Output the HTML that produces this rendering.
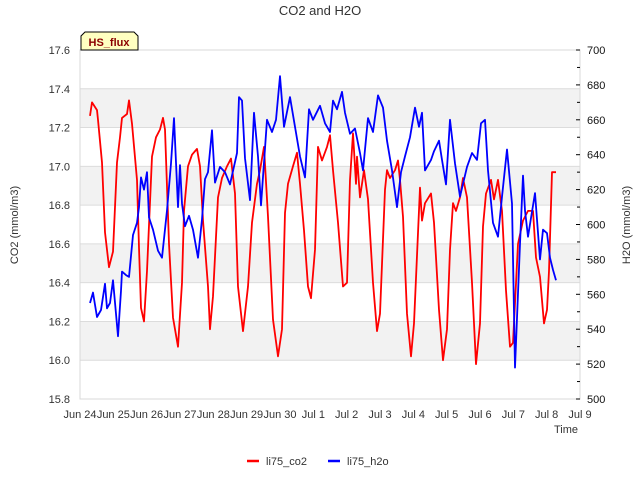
<!DOCTYPE html>
<html><head><meta charset="utf-8"><style>
body{margin:0;background:#fff;}
svg{display:block;font-family:"Liberation Sans","DejaVu Sans",sans-serif;}
</style></head><body>
<svg id="chart" width="640" height="480">
<text x="320" y="15" text-anchor="middle" font-size="13" fill="#333">CO2 and H2O</text>
<g id="bands"></g><g id="grid"></g>
<rect x="80" y="50" width="500" height="349" fill="none" stroke="#d8d8d8"/>
<g id="axes"></g><g id="series"></g>
<g>
<path d="M81,50 L81,36 L85,32 L134,32 L138,36 L138,50 Z" fill="#ffffc0" stroke="#000"/>
<text x="109" y="46" text-anchor="middle" font-size="11" font-weight="bold" fill="#8b0000">HS_flux</text>
</g>
<text transform="translate(18,225) rotate(-90)" text-anchor="middle" font-size="11" fill="#333">CO2 (mmol/m3)</text>
<text transform="translate(630,225) rotate(-90)" text-anchor="middle" font-size="11" fill="#333">H2O (mmol/m3)</text>
<text x="578" y="433" text-anchor="end" font-size="11" fill="#333">Time</text>
<g>
<line x1="247" y1="461" x2="259" y2="461" stroke="#f00" stroke-width="2.5"/>
<text x="266" y="465" font-size="11" fill="#333">li75_co2</text>
<line x1="328" y1="461" x2="340" y2="461" stroke="#00f" stroke-width="2.5"/>
<text x="347" y="465" font-size="11" fill="#333">li75_h2o</text>
</g>
</svg>
<script>
const xTickLabels=["Jun 24","Jun 25","Jun 26","Jun 27","Jun 28","Jun 29","Jun 30","Jul 1","Jul 2","Jul 3","Jul 4","Jul 5","Jul 6","Jul 7","Jul 8","Jul 9"];
const leftTicks=[15.8,16.0,16.2,16.4,16.6,16.8,17.0,17.2,17.4,17.6];
const rightTicks=[500,520,540,560,580,600,620,640,660,680,700];
const co2Days=[.30,.36,.51,.54,.66,.75,.87,.99,1.11,1.20,1.26,1.41,1.47,1.56,1.71,1.77,1.83,1.92,2.01,2.16,2.28,2.40,2.49,2.55,2.67,2.79,2.94,3.06,3.12,3.24,3.36,3.51,3.60,3.69,3.84,3.90,3.99,4.14,4.26,4.41,4.53,4.65,4.74,4.89,5.04,5.16,5.31,5.40,5.52,5.64,5.79,5.94,6.06,6.15,6.24,6.39,6.51,6.60,6.72,6.84,6.93,7.05,7.14,7.26,7.41,7.50,7.59,7.74,7.89,8.01,8.10,8.19,8.28,8.31,8.40,8.52,8.64,8.79,8.91,9.00,9.15,9.21,9.30,9.45,9.54,9.60,9.69,9.81,9.93,10.02,10.20,10.26,10.35,10.53,10.62,10.77,10.89,11.01,11.10,11.19,11.28,11.40,11.49,11.61,11.76,11.88,12.00,12.09,12.18,12.33,12.42,12.54,12.66,12.78,12.90,12.99,13.14,13.29,13.44,13.59,13.68,13.80,13.92,14.01,14.07,14.16,14.28];
const co2Values=[17.26,17.33,17.29,17.24,17.02,16.66,16.48,16.56,17.02,17.15,17.25,17.27,17.34,17.22,16.93,16.58,16.27,16.20,16.46,17.05,17.15,17.19,17.25,17.19,16.60,16.22,16.07,16.40,16.77,17.00,17.06,17.09,17.00,16.72,16.38,16.16,16.33,16.84,16.94,17.00,17.04,16.86,16.38,16.15,16.38,16.71,16.91,16.98,17.10,16.74,16.21,16.02,16.16,16.76,16.91,17.00,17.07,16.91,16.67,16.38,16.32,16.57,17.10,17.03,17.10,17.16,16.98,16.71,16.38,16.40,16.93,17.17,16.91,17.05,16.84,16.98,16.83,16.40,16.15,16.24,16.88,16.98,16.94,16.98,17.03,16.93,16.74,16.24,16.02,16.19,16.89,16.72,16.81,16.86,16.71,16.26,16.00,16.16,16.57,16.81,16.77,16.84,16.94,16.84,16.40,15.98,16.19,16.69,16.86,16.93,16.83,16.93,16.77,16.36,16.07,16.09,16.60,16.72,16.77,16.77,16.53,16.43,16.19,16.26,16.46,16.97,16.97];
const h2oDays=[.30,.39,.51,.63,.75,.81,.90,.99,1.14,1.23,1.26,1.38,1.47,1.59,1.71,1.77,1.83,1.92,2.01,2.07,2.19,2.34,2.46,2.61,2.73,2.82,2.94,3.00,3.06,3.15,3.27,3.39,3.54,3.66,3.75,3.84,3.96,4.05,4.20,4.35,4.50,4.71,4.77,4.86,4.95,5.10,5.22,5.34,5.43,5.61,5.76,5.88,6.00,6.12,6.30,6.45,6.60,6.75,6.87,6.99,7.20,7.35,7.50,7.59,7.71,7.86,7.95,8.10,8.25,8.40,8.49,8.64,8.79,8.94,9.09,9.21,9.36,9.51,9.63,9.75,9.90,10.05,10.17,10.26,10.35,10.53,10.62,10.77,10.86,10.98,11.10,11.25,11.40,11.61,11.76,11.91,12.03,12.15,12.24,12.39,12.54,12.66,12.81,12.96,13.05,13.20,13.29,13.35,13.44,13.65,13.80,13.89,14.01,14.10,14.19,14.28];
const h2oValues=[555,561,547,551,566,552,555,568,536,562,573,571,570,594,601,610,627,620,630,604,597,585,581,608,635,661,610,634,612,599,605,597,581,603,626,630,654,624,633,630,623,641,673,671,638,614,664,639,611,660,653,660,685,656,673,656,639,627,666,660,668,658,653,671,666,676,664,652,655,641,631,661,653,674,667,648,631,610,630,639,650,667,656,664,631,637,642,648,637,623,660,635,616,633,641,637,658,660,631,601,593,616,643,612,518,589,628,608,593,618,580,597,595,581,574,568];

const NS="http://www.w3.org/2000/svg";
const X0=80,X1=580,Y0=50,Y1=399,DAYS=15;
function xScale(d){return X0+d*(X1-X0)/DAYS;}
function yLeft(v){return Y1-(v-15.8)*(Y1-Y0)/1.8;}
function yRight(v){return Y1-(v-500)*(Y1-Y0)/200;}
function mk(tag,attrs,parent){const e=document.createElementNS(NS,tag);for(const k in attrs)e.setAttribute(k,attrs[k]);parent.appendChild(e);return e;}
const bands=document.getElementById('bands'),grid=document.getElementById('grid'),axes=document.getElementById('axes'),series=document.getElementById('series');
for(let i=0;i<leftTicks.length-1;i++){
  if(i%2===1){
    const r=mk('rect',{x:X0,y:yLeft(leftTicks[i+1]),width:X1-X0,height:yLeft(leftTicks[i])-yLeft(leftTicks[i+1]),fill:'#f2f2f2'},bands);
    
    
  }
}
leftTicks.forEach(v=>{
  const l=mk('line',{x1:X0,x2:X1,y1:yLeft(v),y2:yLeft(v),stroke:'#dcdcdc'},grid);
  
  
  const t=mk('text',{x:70,y:yLeft(v)+4,'text-anchor':'end','font-size':11,fill:'#333'},axes);
  t.textContent=v.toFixed(1);
  
  
});
rightTicks.forEach(v=>{
  const t=mk('text',{x:587,y:yRight(v)+4,'font-size':11,fill:'#111'},axes);
  t.textContent=v;
  
  
  const k=mk('line',{x1:576,x2:580,y1:yRight(v),y2:yRight(v),stroke:'#000'},axes);
  
  
  if(v<700){const m=mk('line',{x1:577,x2:580,y1:yRight(v+10),y2:yRight(v+10),stroke:'#000'},axes);
  
  }
});
xTickLabels.forEach((s,i)=>{
  const t=mk('text',{x:xScale(i),y:418,'text-anchor':'middle','font-size':11,fill:'#333'},axes);
  t.textContent=s;
  
  
});
function line(days,vals,ys,color,name){
  const pts=days.map((d,i)=>xScale(d).toFixed(1)+','+ys(vals[i]).toFixed(1)).join(' ');
  const p=mk('polyline',{points:pts,fill:'none',stroke:color,'stroke-width':1.8,'stroke-linejoin':'round'},series);
  
  
}
line(co2Days,co2Values,yLeft,'#ff0000','co2-line');
line(h2oDays,h2oValues,yRight,'#0000ff','h2o-line');
</script>
</body></html>
